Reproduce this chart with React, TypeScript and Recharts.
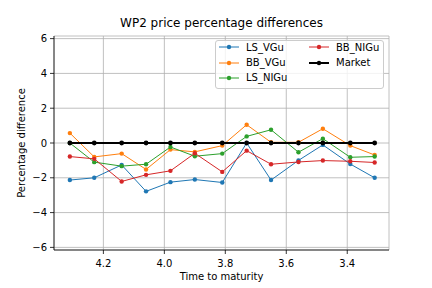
import { LineChart, Line, XAxis, YAxis, CartesianGrid, Legend } from "recharts"

const times = [4.31, 4.23, 4.14, 4.06, 3.98, 3.9, 3.81, 3.73, 3.65, 3.56, 3.48, 3.39, 3.31]
const lsVgu = [-2.13, -2.0, -1.26, -2.78, -2.25, -2.1, -2.27, 0.0, -2.13, -1.0, -0.11, -1.21, -2.0]
const bbVgu = [0.57, -0.8, -0.61, -1.52, -0.38, -0.51, -0.15, 1.05, 0.04, 0.04, 0.82, -0.15, -0.69]
const lsNigu = [0.0, -1.1, -1.33, -1.22, -0.23, -0.76, -0.61, 0.38, 0.76, -0.53, 0.25, -0.82, -0.78]
const bbNigu = [-0.78, -0.91, -2.21, -1.83, -1.6, -0.59, -1.66, -0.44, -1.22, -1.09, -1.01, -1.05, -1.12]
const market = [0, 0, 0, 0, 0, 0, 0, 0, 0, 0, 0, 0, 0]

const seriesNames = ["LS_VGu", "BB_VGu", "LS_NIGu", "BB_NIGu", "Market"]
const xTicks = [4.2, 4.0, 3.8, 3.6, 3.4]
const yTicks = [-6, -4, -2, 0, 2, 4, 6]

const colors: Record<string, string> = {
  LS_VGu: "#1f77b4",
  BB_VGu: "#ff7f0e",
  LS_NIGu: "#2ca02c",
  BB_NIGu: "#d62728",
  Market: "#000000",
}

const data = times.map((t, i) => ({
  t,
  LS_VGu: lsVgu[i],
  BB_VGu: bbVgu[i],
  LS_NIGu: lsNigu[i],
  BB_NIGu: bbNigu[i],
  Market: market[i],
}))

const font = "'DejaVu Sans', sans-serif"
const tickStyle = { fontFamily: font, fontSize: 10, fill: "#000" }

const fmtY = (v: number) => (v < 0 ? "\u2212" + Math.abs(v) : String(v))

// two-column legend, matplotlib style
const renderLegend = () => (
  <div
    style={{
      position: "relative",
      width: 169,
      height: 49,
      border: "1px solid #cccccc",
      borderRadius: 3,
      background: "rgba(255,255,255,0.8)",
      boxSizing: "border-box",
      fontFamily: font,
      fontSize: 10,
      color: "#000",
    }}
  >
    {seriesNames.map((name, i) => {
      const col = i < 3 ? 0 : 1
      const row = i < 3 ? i : i - 3
      const left = col === 0 ? 3 : 93
      const top = -0.8 + row * 15.3
      return (
        <div
          key={name}
          style={{ position: "absolute", left, top, height: 14, display: "flex", alignItems: "center", whiteSpace: "nowrap" }}
        >
          <svg width={20} height={14} style={{ marginRight: 7 }}>
            <line x1={0} y1={7} x2={20} y2={7} stroke={colors[name]} strokeWidth={name === "Market" ? 2 : 1} />
            <circle cx={10} cy={7} r={2.2} fill={colors[name]} />
          </svg>
          <span>{name}</span>
        </div>
      )
    })}
  </div>
)

export default function App() {
  return (
    <div style={{ position: "absolute", left: 0, top: 0, width: 432, height: 288, background: "#fff" }}>
      <div
        style={{
          position: "absolute",
          left: 54,
          top: 16,
          width: 335,
          textAlign: "center",
          fontFamily: font,
          fontSize: 12,
          lineHeight: "14px",
          color: "#000",
        }}
      >
        WP2 price percentage differences
      </div>
      <LineChart width={432} height={288} data={data} margin={{ top: 36, right: 43, bottom: 0, left: 0 }}>
        <CartesianGrid stroke="#b0b0b0" strokeWidth={0.8} />
        <XAxis
          dataKey="t"
          type="number"
          domain={[3.263, 4.362]}
          reversed
          allowDataOverflow
          ticks={xTicks}
          tickFormatter={(v: number) => v.toFixed(1)}
          tick={tickStyle}
          tickSize={4}
          tickMargin={6}
          height={38}
          axisLine={{ stroke: "#000", strokeWidth: 0.8 }}
          tickLine={{ stroke: "#000", strokeWidth: 0.8 }}
          label={{
            content: (props: any) => {
              const vb = props.viewBox
              return (
                <text x={vb.x + vb.width / 2} y={280} textAnchor="middle" fontFamily={font} fontSize={10} fill="#000">
                  Time to maturity
                </text>
              )
            },
          }}
        />
        <XAxis xAxisId="top" orientation="top" dataKey="t" type="number" domain={[3.263, 4.362]} height={0} tick={false} tickLine={false} axisLine={{ stroke: "#000", strokeWidth: 0.8 }} />
        <YAxis
          type="number"
          domain={[-6.15, 6.15]}
          allowDataOverflow
          ticks={yTicks}
          tickFormatter={fmtY}
          tick={tickStyle}
          tickSize={4}
          tickMargin={3}
          width={54}
          axisLine={{ stroke: "#000", strokeWidth: 0.8 }}
          tickLine={{ stroke: "#000", strokeWidth: 0.8 }}
          label={{
            content: (props: any) => {
              const vb = props.viewBox
              const cx = 21
              const cy = vb.y + vb.height / 2
              return (
                <text x={cx} y={cy} transform={`rotate(-90, ${cx}, ${cy})`} textAnchor="middle" dominantBaseline="central" fontFamily={font} fontSize={10} fill="#000">
                  Percentage difference
                </text>
              )
            },
          }}
        />
        <YAxis yAxisId="right" orientation="right" type="number" domain={[-6.15, 6.15]} width={0} tick={false} tickLine={false} axisLine={{ stroke: "#000", strokeWidth: 0.8 }} />
        <Legend
          layout="horizontal"
          verticalAlign="middle"
          align="center"
          content={renderLegend}
          wrapperStyle={{ left: 215, top: 40, width: 169, height: 49 }}
        />
        {seriesNames.map((name) => (
          <Line
            key={name}
            dataKey={name}
            stroke={colors[name]}
            strokeWidth={name === "Market" ? 2 : 1}
            dot={{ r: name === "Market" ? 2.4 : 2.2, fill: colors[name], stroke: colors[name], strokeWidth: 0 }}
            activeDot={false}
            isAnimationActive={false}
          />
        ))}
      </LineChart>
    </div>
  )
}
